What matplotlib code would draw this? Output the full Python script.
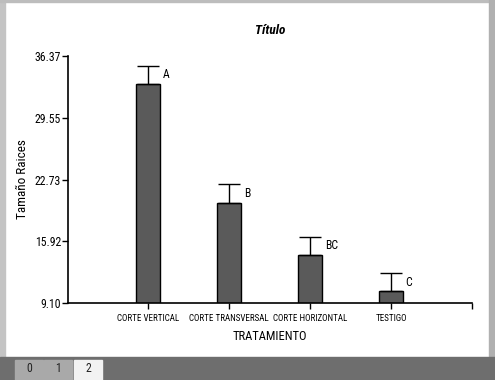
import matplotlib.pyplot as plt
from matplotlib.patches import Rectangle

# data
tratamientos = ["CORTE VERTICAL", "CORTE TRANSVERSAL", "CORTE HORIZONTAL", "TESTIGO"]
medias = [33.3, 20.1, 14.4, 10.4]
errores = [2.0, 2.1, 2.0, 2.0]
letras = ["A", "B", "BC", "C"]
y_ticks = [9.10, 15.92, 22.73, 29.55, 36.37]
pestanas = ["0", "1", "2"]

plt.rcParams["font.family"] = ["Roboto Condensed", "DejaVu Sans"]

W, H = 495, 380
fig = plt.figure(figsize=(W / 100, H / 100), dpi=100)
fig.patch.set_facecolor("white")


# window frame and tab strip like the screenshot
def px_rect(x0, y0, w, h, color):
    fig.patches.append(Rectangle((x0 / W, 1 - (y0 + h) / H), w / W, h / H,
                                 transform=fig.transFigure, color=color, zorder=0))


px_rect(0, 0, 5, H, "#c4c4c4")
px_rect(0, 0, W, 2, "#bdbdbd")
px_rect(489, 0, 6, H, "#b0b0b0")
px_rect(0, 357, W, 23, "#6e6e6e")
tab_x = [15, 44, 74]
for i, t in enumerate(pestanas):
    col = "#f2f2f2" if i == len(pestanas) - 1 else "#a9a9a9"
    px_rect(tab_x[i], 360, 28, 20, col)
    fig.text((tab_x[i] + 14) / W, 1 - 369 / H, t, ha="center", va="center",
             fontsize=8.5, color="#222222")

ax = fig.add_axes([68 / W, 77 / H, 404 / W, 247 / H])
x = list(range(len(tratamientos)))
ax.bar(x, medias, width=0.30, color="#5a5a5a", edgecolor="black",
       linewidth=1.0, zorder=2)
ax.errorbar(x, medias, yerr=[[0] * len(errores), errores], fmt="none",
            ecolor="black", elinewidth=1.0, capsize=8, capthick=1.0, zorder=3)
for xi, m, e, l in zip(x, medias, errores, letras):
    ax.text(xi + 0.18, m + e * 0.5, l, ha="left", va="center", fontsize=8.5)

ax.set_ylim(y_ticks[0], y_ticks[-1])
ax.set_xlim(-0.99, 4.0)
ax.set_yticks(y_ticks)
ax.set_yticklabels([f"{v:.2f}" for v in y_ticks], fontsize=8.5)
ax.set_xticks(x + [4.0])
ax.set_xticklabels(tratamientos + [""], fontsize=6.5)
ax.tick_params(axis="both", length=4, width=1, color="black", pad=1)
ax.tick_params(axis="x", pad=4)
for s in ["top", "right"]:
    ax.spines[s].set_visible(False)
for s in ["left", "bottom"]:
    ax.spines[s].set_linewidth(1.2)

ax.set_xlabel("TRATAMIENTO", fontsize=9, labelpad=5)
ax.set_ylabel("Tamaño Raices", fontsize=9.5, labelpad=4)
ax.set_title("Título", fontsize=9.5, fontweight="bold", style="italic", pad=16)

fig.savefig("out.png", dpi=100)
